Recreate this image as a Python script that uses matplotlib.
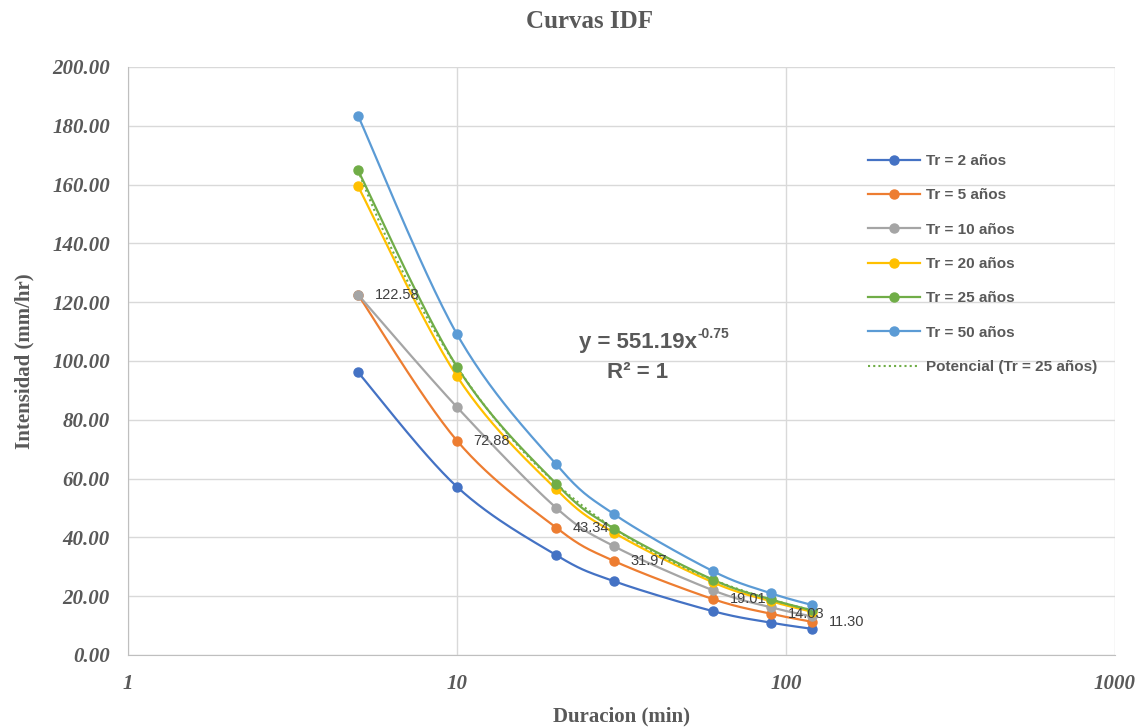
import numpy as np
import matplotlib
matplotlib.use("Agg")
import matplotlib.pyplot as plt
from matplotlib.lines import Line2D

durations = [5, 10, 20, 30, 60, 90, 120]
series_names = ["Tr = 2 años", "Tr = 5 años", "Tr = 10 años", "Tr = 20 años",
                "Tr = 25 años", "Tr = 50 años"]
tr2 = [96.2, 57.2, 34.0, 25.1, 14.9, 11.0, 8.9]
tr5 = [122.58, 72.88, 43.34, 31.97, 19.01, 14.03, 11.30]
tr10 = [122.6, 84.3, 50.1, 37.0, 22.0, 16.2, 13.1]
tr20 = [159.5, 94.8, 56.4, 41.6, 24.7, 18.3, 14.7]
tr25 = [164.9, 98.0, 58.3, 43.0, 25.6, 18.9, 15.2]
tr50 = [183.5, 109.1, 64.9, 47.9, 28.5, 21.0, 17.0]
colors = ["#4472C4", "#ED7D31", "#A5A5A5", "#FFC000", "#70AD47", "#5B9BD5"]
all_series = [tr2, tr5, tr10, tr20, tr25, tr50]
yticks = [0, 20, 40, 60, 80, 100, 120, 140, 160, 180, 200]
xticks = [1, 10, 100, 1000]

TXT = "#595959"
GRID = "#D9D9D9"
W, H = 1147, 727


def smooth(x, y, n=30):
    # uniform Catmull-Rom spline in (log10 x, y) space, like Excel smoothed lines
    lx = np.log10(np.asarray(x, float))
    yy = np.asarray(y, float)
    P = np.column_stack([lx, yy])
    P = np.vstack([P[0], P, P[-1]])
    out = []
    t = np.linspace(0, 1, n)
    for i in range(1, len(P) - 2):
        p0, p1, p2, p3 = P[i - 1], P[i], P[i + 1], P[i + 2]
        tt = t[:, None]
        seg = 0.5 * ((2 * p1) + (-p0 + p2) * tt + (2 * p0 - 5 * p1 + 4 * p2 - p3) * tt ** 2
                     + (-p0 + 3 * p1 - 3 * p2 + p3) * tt ** 3)
        out.append(seg if i == 1 else seg[1:])
    out = np.vstack(out)
    return 10 ** out[:, 0], out[:, 1]


fig = plt.figure(figsize=(W / 100, H / 100), dpi=100)
ax = fig.add_axes([128 / W, 1 - 655 / H, (1115 - 128) / W, (655 - 67) / H])
ax.set_xscale("log")
ax.set_xlim(1, 1000)
ax.set_ylim(0, 200)

handles = []
for name, vals, c in zip(series_names, all_series, colors):
    sx, sy = smooth(durations, vals)
    ax.plot(sx, sy, color=c, lw=1.6, zorder=3)
    ax.plot(durations, vals, "o", color=c, ms=6.5, zorder=4)
    handles.append(Line2D([0], [0], color=c, lw=1.6, marker="o", ms=6.5))

# power trendline for Tr = 25
b, loga = np.polyfit(np.log(durations), np.log(tr25), 1)
a = np.exp(loga)
tx = np.logspace(np.log10(durations[0]), np.log10(durations[-1]), 200)
ax.plot(tx, a * tx ** b, color="#70AD47", lw=1.5, ls=(0, (1, 1.5)), zorder=5)
handles.append(Line2D([0], [0], color="#70AD47", lw=1.5, ls=(0, (1, 1.5))))

# data labels for Tr = 5
for d, v in zip(durations, tr5):
    ax.annotate(f"{v:.2f}", (d, v), xytext=(12, 0), textcoords="offset points",
                ha="left", va="center", fontsize=10.5, color="#404040",
                family="Liberation Sans", zorder=6)

# trendline equation
eq_font = dict(family="Liberation Sans", fontweight="bold", color=TXT)
fig.text(697 / W, 1 - 343 / H, "y = 551.19x", fontsize=16, ha="right", va="center", **eq_font)
fig.text(698 / W, 1 - 334 / H, "-0.75", fontsize=10, ha="left", va="center", **eq_font)
fig.text(638 / W, 1 - 372 / H, "R² = 1", fontsize=16, ha="center", va="center", **eq_font)

tick_font = dict(family="Liberation Serif", fontweight="bold", fontstyle="italic",
                 color=TXT)
ax.set_yticks(yticks)
ax.set_yticklabels([f"{v:.2f}" for v in yticks], fontsize=15, **tick_font)
ax.set_xticks(xticks)
ax.set_xticklabels([str(v) for v in xticks], fontsize=15, **tick_font)
ax.xaxis.set_minor_locator(matplotlib.ticker.NullLocator())
ax.grid(True, which="major", color=GRID, lw=1)
ax.set_axisbelow(True)
for s in ["top", "right"]:
    ax.spines[s].set_visible(False)
for s in ["left", "bottom"]:
    ax.spines[s].set_color("#BFBFBF")
ax.tick_params(axis="y", length=0, pad=13)
ax.tick_params(axis="x", length=0, pad=14)

ax.set_xlabel("Duracion (min)", family="Liberation Serif", fontweight="bold",
              fontsize=15, color=TXT, labelpad=9)
ax.set_ylabel("Intensidad (mm/hr)", family="Liberation Serif", fontweight="bold",
              fontsize=15, color=TXT, labelpad=13)
fig.text(590 / W, 1 - 22 / H, "Curvas IDF", family="Liberation Serif",
         fontweight="bold", fontsize=18, color=TXT, ha="center", va="center")

leg = ax.legend(handles, series_names + ["Potencial (Tr = 25 años)"],
                loc="upper left", bbox_to_anchor=(868 / W, 1 - 154 / H),
                bbox_transform=fig.transFigure, frameon=False,
                prop={"family": "Liberation Sans", "weight": "bold", "size": 11},
                labelspacing=1.33, handlelength=3.4, handletextpad=0.4,
                borderaxespad=0, borderpad=0)
for t in leg.get_texts():
    t.set_color(TXT)

fig.savefig("out.png", dpi=100)
